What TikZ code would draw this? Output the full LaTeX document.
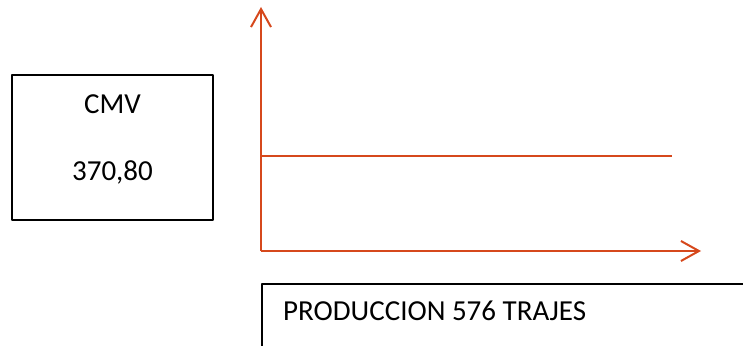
\documentclass[tikz,border=0pt]{standalone}
\usepackage{fontspec}
\setmainfont{Carlito}
\usetikzlibrary{arrows.meta}
\definecolor{axisorange}{RGB}{214,72,28}
\tikzset{
  axisline/.style={draw=axisorange,line width=2pt},
  axisarrow/.style={axisline,-{Straight Barb[length=18pt,width=20pt,line width=2pt]}},
  infobox/.style={draw=black,line width=1.1pt}
}
\begin{document}
\begin{tikzpicture}[x=1pt,y=-1pt,font=\fontsize{29}{34}\selectfont,line join=round]
  \useasboundingbox (0,0) rectangle (743,345);
  \clip (0,0) rectangle (743,345);
  % caja CMV
  \draw[infobox] (12,75) rectangle (213,220);
  \node[anchor=base,inner sep=0pt] (cmv) at (112.5,113) {CMV};
  \node[anchor=base,inner sep=0pt] (valor) at (112.5,180) {370,80};
  % ejes
  \coordinate (origen) at (261,251);
  \coordinate (ytop) at (261,7);
  \coordinate (xend) at (701,251);
  \coordinate (nivel0) at (261,156);
  \coordinate (nivel1) at (672,156);
  \draw[axisarrow] (origen) -- (ytop);
  \draw[axisarrow] (origen) -- (xend);
  \draw[axisline] (nivel0) -- (nivel1);
  % caja produccion
  \draw[infobox] (262,284) rectangle (760,360);
  \node[anchor=base west,inner sep=0pt] (prod) at (283,320) {PRODUCCION 576 TRAJES};
\end{tikzpicture}
\end{document}
